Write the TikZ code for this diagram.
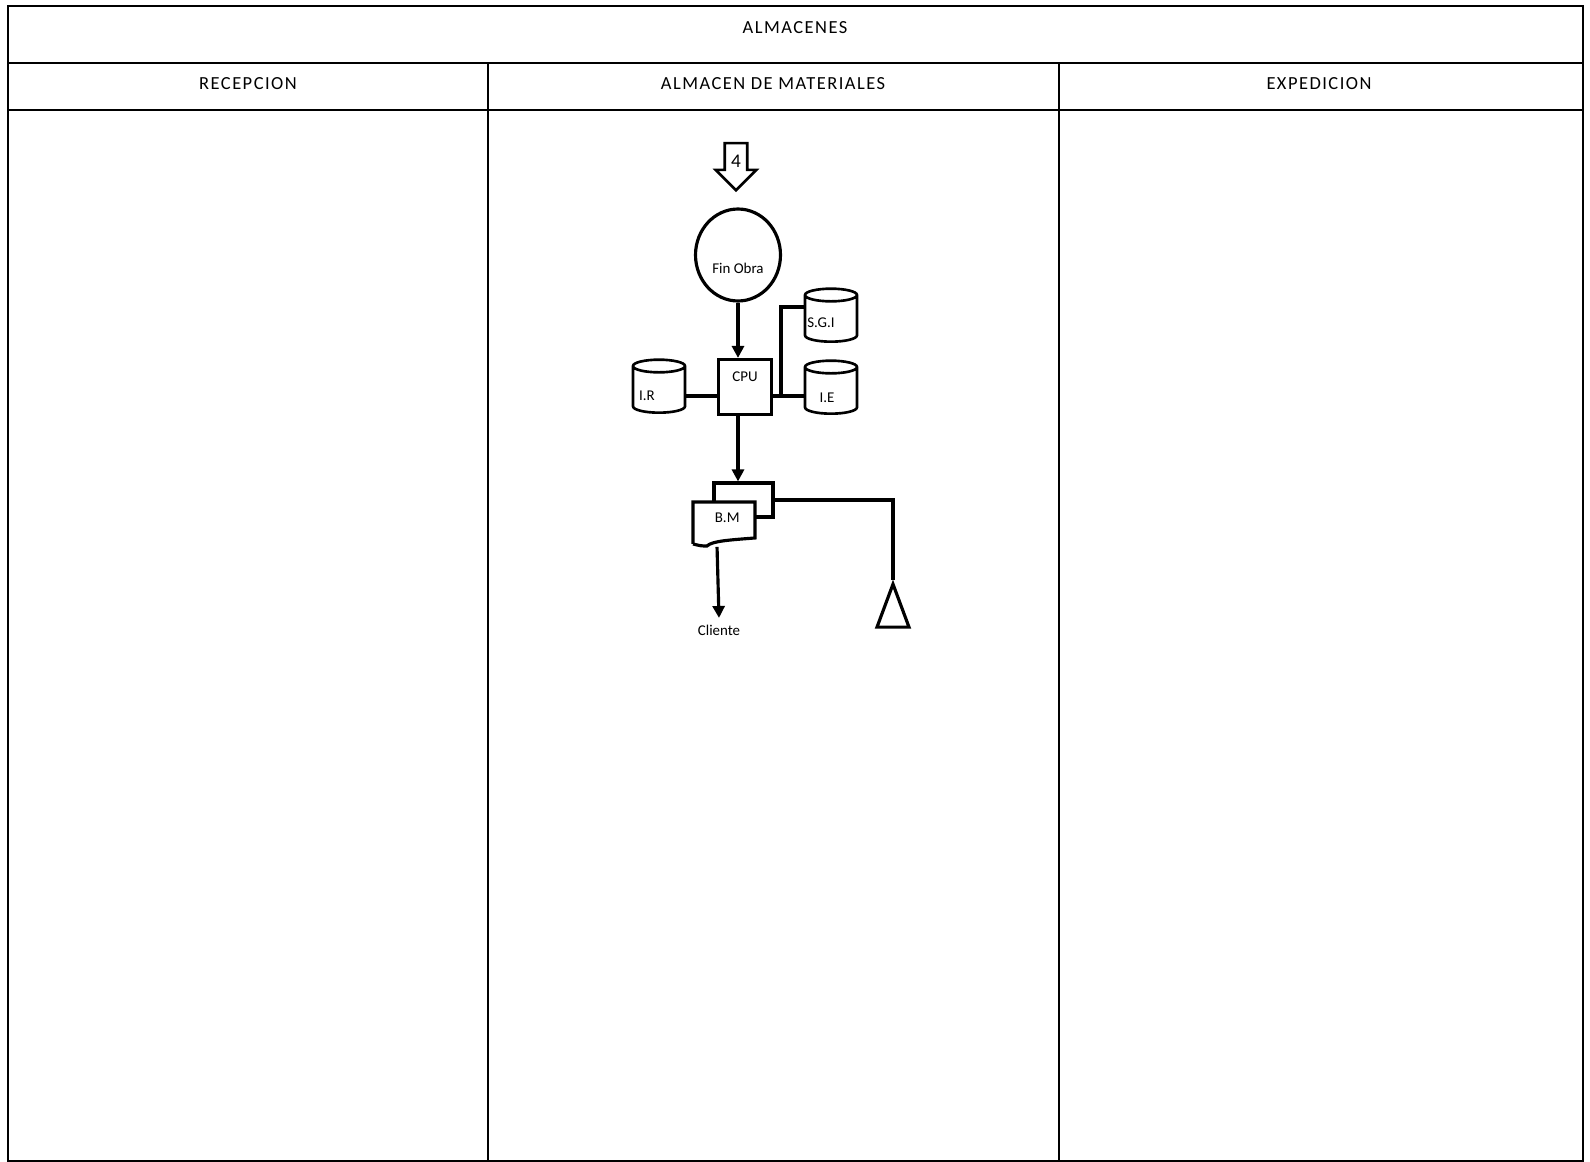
\documentclass[tikz,border=0pt]{standalone}
\usepackage{fontspec}
\setmainfont{Carlito}
\usetikzlibrary{shapes.geometric, shapes.arrows, positioning, calc, arrows.meta}

\begin{document}
\begin{tikzpicture}[x=0.02cm, y=-0.02cm, >={Triangle[length=2.4mm, width=2.4mm]}, line width=1.1pt]

% ------------------- styles -------------------
\tikzstyle{lane} = [draw, line width=1.2pt]
\tikzstyle{lanetitle} = [font=\fontsize{10.5}{12}\selectfont\addfontfeatures{LetterSpace=8}]
\tikzstyle{small} = [font=\fontsize{8.5}{10}\selectfont]
\tikzstyle{disk} = [draw, cylinder, shape border rotate=90, aspect=1.2, text width=6pt, text height=6pt, text depth=0pt, minimum width=1.04cm, minimum height=1.06cm, inner sep=0, line width=1.5pt]
\tikzstyle{proc} = [draw, rectangle, minimum width=1.06cm, minimum height=1.1cm, inner sep=0, line width=1.8pt]
\tikzstyle{flow} = [->, line width=1.8pt]
\tikzstyle{link} = [line width=1.8pt]

\useasboundingbox (0,0) rectangle (1590,1162);

% ------------------- frame -------------------
\draw[lane] (8,6) rectangle (1583,1161);
\draw[lane] (8,63) -- (1583,63);
\draw[lane] (8,110) -- (1583,110);
\draw[lane] (488,63) -- (488,1161);
\draw[lane] (1059,63) -- (1059,1161);

\node[lanetitle] (almacenes) at (795,28) {ALMACENES};
\node[lanetitle] (recepcion) at (248,84) {RECEPCION};
\node[lanetitle] (materiales) at (773,84) {ALMACEN DE MATERIALES};
\node[lanetitle] (expedicion) at (1319,84) {EXPEDICION};

% ------------------- connector 4 -------------------
\node[draw, single arrow, shape border rotate=270, single arrow head extend=0.18cm, minimum height=0.94cm, inner sep=2.9pt, line width=1.5pt, font=\fontsize{11}{12}\selectfont] (conector) at (736,161) {4};

% ------------------- Fin Obra -------------------
\node[draw, ellipse, minimum width=1.7cm, minimum height=1.84cm, inner sep=0, line width=1.8pt,
  label={[small, yshift=-0.26cm]center:Fin Obra}] (fin) at (738,255) {};

% CPU and files
\node[proc, label={[small, yshift=0.2cm]center:CPU}] (cpu) at (745,387) {};
\node[disk, label={[small, xshift=-0.24cm, yshift=-0.12cm]center:I.R}] (ir) at (659,390) {};
\node[disk, label={[small, xshift=-0.08cm, yshift=-0.14cm]center:I.E}] (ie) at (831,391) {};
\node[disk, label={[small, xshift=-0.2cm, yshift=-0.08cm]center:S.G.I}] (sgi) at (831,319) {};

\coordinate (bus) at (781,396);
\coordinate (tap) at (781,307);

% B.M (multiple document)
\node[draw, rectangle, minimum width=1.18cm, minimum height=0.68cm, inner sep=0, line width=1.8pt] (bmback) at (743.5,500) {};
\node[rectangle, minimum width=1.2cm, minimum height=0.8cm, inner sep=0] (bm) at (724,523) {};
\draw[link, fill=white] (bm.south west) -- (bm.north west) -- (bm.north east) -- ($(bm.south east)+(0,-6)$)
  .. controls ($(bm.south east)+(-25,-4)$) and ($(bm.south)+(-12,-3)$) .. ($(bm.south west)+(14,2)$)
  .. controls ($(bm.south west)+(8,2)$) .. (bm.south west);
\node[small, anchor=north west] at ($(bm.north west)+(15,4)$) {B.M};

% storage
\node[draw, isosceles triangle, shape border rotate=90, isosceles triangle stretches, minimum width=0.64cm, minimum height=0.86cm, inner sep=0, anchor=apex, line width=1.8pt] (archivo) at (893,580) {};

\node[small] (cliente) at (719,630) {Cliente};

% ------------------- connectors -------------------
\draw[flow] (fin.south) -- (fin.south |- cpu.north);
\draw[link] (ir.east |- bus) -- (cpu.west |- bus);
\draw[link] (cpu.east |- bus) -- (ie.west |- bus);
\draw[link] (bus) -- (tap) -- (sgi.west |- tap);
\draw[flow] (fin.south |- cpu.south) -- (fin.south |- bmback.north);
\draw[link] (bmback.east) -| (archivo.apex);
\draw[flow] (bm.south west) ++(24,3) -- (cliente.north);

\end{tikzpicture}
\end{document}
